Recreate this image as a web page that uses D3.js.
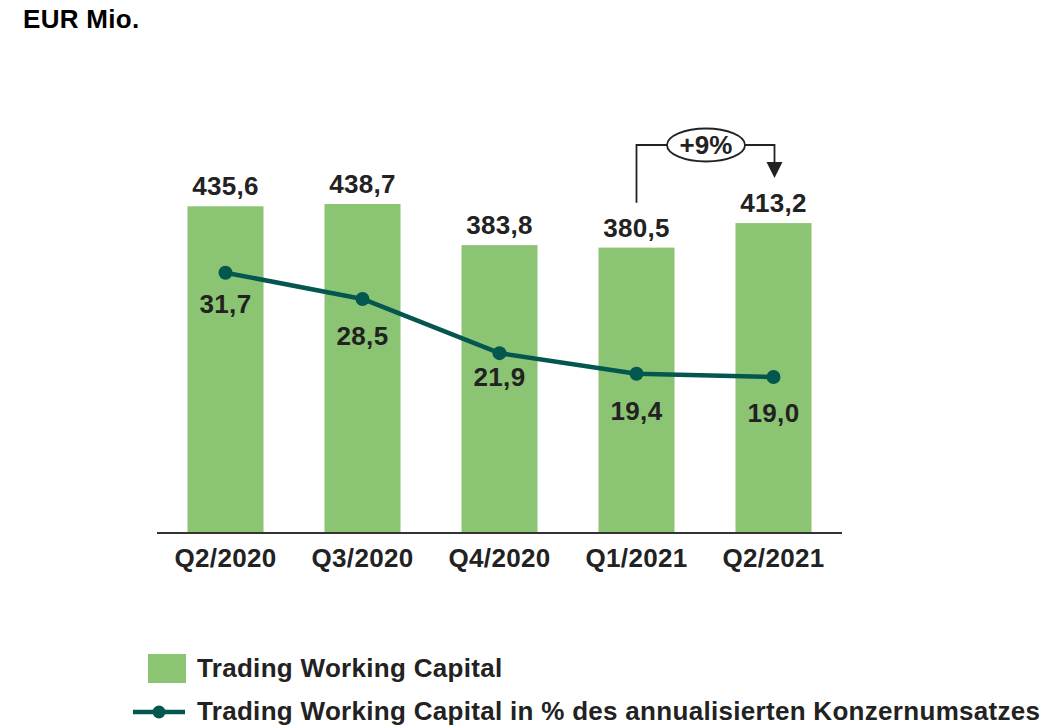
<!DOCTYPE html>
<html>
<head>
<meta charset="utf-8">
<script src="https://cdn.jsdelivr.net/npm/d3@7/dist/d3.min.js"></script>
<style>
  html, body { margin: 0; padding: 0; background: #ffffff; }
  svg { display: block; }
  text { font-family: "Liberation Sans", Arial, sans-serif; font-weight: bold; fill: #222222; }
</style>
</head>
<body>
<svg id="chart" width="1060" height="726"></svg>
<script>
// ---- data ----
const categories = ["Q2/2020", "Q3/2020", "Q4/2020", "Q1/2021", "Q2/2021"];
const twcValues = [435.6, 438.7, 383.8, 380.5, 413.2];
const twcPercent = [31.7, 28.5, 21.9, 19.4, 19.0];
const twcLabels = ["435,6", "438,7", "383,8", "380,5", "413,2"];
const pctLabels = ["31,7", "28,5", "21,9", "19,4", "19,0"];
const unitLabel = "EUR Mio.";
const changeLabel = "+9%";
const legendNames = ["Trading Working Capital", "Trading Working Capital in % des annualisierten Konzernumsatzes"];

// ---- layout ----
const barColor = "#8BC473";
const lineColor = "#03574F";
const baseY = 533, topY = 83;
const left = 157, right = 842;
const fs = 26, ls = "0.3px";
const pctLabelDy = [40, 46, 33, 46, 45];

const svg = d3.select("#chart");

const x = d3.scaleBand().domain(categories).range([left, right]).paddingInner(0.445).paddingOuter(0.2225);
const yBar = d3.scaleLinear().domain([0, 600]).range([baseY, topY]);
const yLine = d3.scaleLinear().domain([0, 54.8]).range([baseY, topY]);
const cx = d => x(d) + x.bandwidth() / 2;

// title
svg.append("text").attr("x", 23).attr("y", 28).attr("font-size", fs).style("letter-spacing", ls)
  .style("fill", "#000").text(unitLabel);

// bars
svg.append("g").selectAll("rect").data(categories).join("rect")
  .attr("x", d => x(d))
  .attr("width", x.bandwidth())
  .attr("y", (d, i) => yBar(twcValues[i]))
  .attr("height", (d, i) => baseY - yBar(twcValues[i]))
  .attr("fill", barColor);

// axis
const axis = d3.axisBottom(x).tickSize(0).tickPadding(0);
const gAxis = svg.append("g").attr("transform", `translate(0,${baseY})`).call(axis);
gAxis.select(".domain").attr("d", `M${left},0H${right}`).attr("stroke", "#333").attr("stroke-width", 2);
gAxis.selectAll(".tick text")
  .attr("y", 34).attr("dy", null)
  .attr("font-size", fs).style("letter-spacing", ls)
  .attr("font-family", "Liberation Sans, Arial, sans-serif")
  .attr("font-weight", "bold").attr("fill", "#222");

// bar labels
svg.append("g").selectAll("text").data(categories).join("text")
  .attr("x", d => cx(d))
  .attr("y", (d, i) => yBar(twcValues[i]) - 11)
  .attr("text-anchor", "middle").attr("font-size", fs).style("letter-spacing", ls)
  .text((d, i) => twcLabels[i]);

// line
const line = d3.line().x((d, i) => cx(categories[i])).y(d => yLine(d));
svg.append("path").datum(twcPercent).attr("d", line)
  .attr("fill", "none").attr("stroke", lineColor).attr("stroke-width", 4.5).attr("stroke-linejoin", "round");
svg.append("g").selectAll("circle").data(twcPercent).join("circle")
  .attr("cx", (d, i) => cx(categories[i])).attr("cy", d => yLine(d)).attr("r", 7).attr("fill", lineColor);
svg.append("g").selectAll("text").data(twcPercent).join("text")
  .attr("x", (d, i) => cx(categories[i]))
  .attr("y", (d, i) => yLine(d) + pctLabelDy[i])
  .attr("text-anchor", "middle").attr("font-size", fs).style("letter-spacing", ls)
  .text((d, i) => pctLabels[i]);

// change annotation (Q1/2021 -> Q2/2021)
const ax1 = cx(categories[3]), ax2 = cx(categories[4]);
const bracketY = 145;
const ecx = (ax1 + ax2) / 2 + 1, erx = 39, ery = 16.5;
const ann = svg.append("g").attr("stroke", "#222").attr("stroke-width", 1.8).attr("fill", "none");
ann.append("path").attr("d", `M${ax1},${yBar(twcValues[3]) - 45}V${bracketY}H${ecx - erx}`);
ann.append("path").attr("d", `M${ecx + erx},${bracketY}H${ax2 + 1}V${163}`);
ann.append("ellipse").attr("cx", ecx).attr("cy", bracketY).attr("rx", erx).attr("ry", ery).attr("fill", "#fff");
svg.append("path").attr("d", `M${ax2 - 7},162L${ax2 + 9},162L${ax2 + 1},178Z`).attr("fill", "#222");
svg.append("text").attr("x", ecx).attr("y", 154).attr("text-anchor", "middle").attr("font-size", fs).text(changeLabel);

// legend
svg.append("rect").attr("x", 148).attr("y", 654).attr("width", 38).attr("height", 29).attr("fill", barColor);
svg.append("text").attr("x", 197).attr("y", 677).attr("font-size", fs).style("letter-spacing", ls).text(legendNames[0]);
svg.append("line").attr("x1", 133).attr("x2", 185).attr("y1", 712).attr("y2", 712).attr("stroke", lineColor).attr("stroke-width", 4.5);
svg.append("circle").attr("cx", 159).attr("cy", 712).attr("r", 6.5).attr("fill", lineColor);
svg.append("text").attr("x", 197).attr("y", 720).attr("font-size", fs).style("letter-spacing", ls).text(legendNames[1]);
</script>
</body>
</html>
